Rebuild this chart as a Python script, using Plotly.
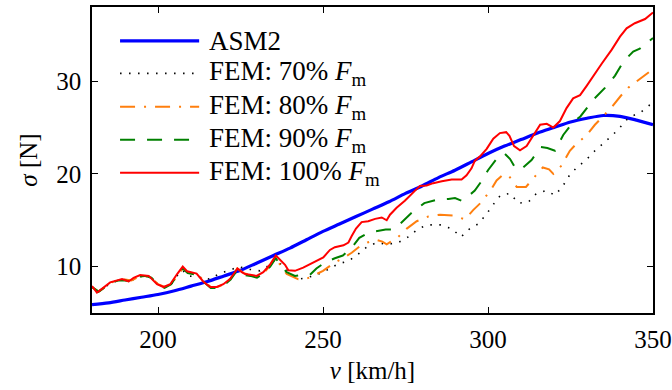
import plotly.graph_objects as go

# ---- data ----
asm2_v = [180, 185, 190, 195, 200, 205, 210, 215, 220, 225, 230, 235, 240, 245, 250, 255, 260, 265, 270, 275,
          280, 285, 290, 295, 300, 305, 310, 315, 320, 325, 330, 335, 340, 345, 350]
asm2_s = [5.9, 6.1, 6.4, 6.7, 7.0, 7.4, 7.9, 8.4, 9.0, 9.6, 10.4, 11.2, 12.0, 12.9, 13.8, 14.6, 15.4, 16.2, 17.0, 17.9,
          18.7, 19.6, 20.4, 21.3, 22.2, 23.0, 23.7, 24.4, 25.0, 25.6, 26.0, 26.3, 26.2, 25.8, 25.3]

f70_v = [180, 182, 184, 186, 188, 190, 192, 194, 196, 198, 200, 202, 204, 206, 207.5, 209, 212, 215.8, 218.8, 221.8,
         224.3, 227.9, 230.9, 233, 235.7, 238.5, 242.5, 245, 248, 251, 254.6, 257.7, 260.5, 263.2, 266.3, 269.5,
         272.8, 275.8, 278.9, 281.9, 285.5, 289, 291.8, 294.5, 297, 299.4, 301.6, 303.8, 306.7, 309.2, 312.2,
         314.7, 317.6, 320.3, 322.6, 324.6, 326.9, 329.7, 332.4, 334.9, 337.8, 340.2, 342.7, 346.1, 348.9, 350]
f70_s = [7.8, 7.3, 7.8, 8.3, 8.5, 8.6, 8.5, 8.9, 9.0, 8.8, 8.1, 7.8, 8.1, 9.1, 9.6, 9.0, 8.9, 8.65, 9.3, 9.6,
         10.0, 9.7, 9.55, 10.0, 10.8, 9.8, 8.65, 8.8, 9.1, 9.6, 10.3, 10.6, 11.3, 12.1, 12.6, 12.4,
         12.6, 13.2, 14.1, 14.5, 14.5, 14.1, 13.2, 14.1, 14.6, 15.6, 16.7, 17.7, 17.9, 16.85, 16.95,
         17.9, 18.2, 17.7, 18.65, 19.8, 20.7, 21.5, 22.5, 23.3, 24.2, 25.1, 26.1, 26.6, 27.4, 27.6]

f80_v = [180, 182, 184, 186, 188, 190, 192, 194, 196, 198, 200, 202, 204, 206, 207.5, 209, 212, 214, 216, 218,
         220, 222, 224, 226, 228, 230, 232, 234, 235.7, 237, 239, 242.5, 245, 247, 250, 253.6, 256, 258.7, 261,
         263.5, 266, 268, 269.3, 272.8, 275.4, 278.4, 281.9, 285.5, 289.5, 293, 295.5, 298, 301.1, 302.6, 304.5,
         306.2, 308.7, 311.5, 313.7, 316.6, 318.5, 319.8, 322.3, 324.8, 326.9, 329.7, 332.4, 334.9, 337.5, 340.2,
         342.5, 345.5, 348.9, 350]
f80_s = [7.8, 7.3, 7.8, 8.3, 8.5, 8.6, 8.5, 8.9, 9.0, 8.8, 8.1, 7.8, 8.1, 9.1, 9.8, 9.4, 9.2, 8.4, 7.8, 7.8,
         8.1, 8.7, 9.8, 9.3, 9.1, 8.9, 9.3, 10.1, 11.0, 10.2, 9.2, 8.65, 8.7, 9.0, 9.55, 10.45, 10.9, 11.5, 12.15,
         12.6, 12.9, 12.7, 12.4, 13.2, 14.1, 14.9, 15.4, 15.6, 15.5, 15.1, 16.1, 16.95, 18.4, 19.3, 19.9,
         19.85, 18.6, 18.6, 19.5, 20.7, 20.5, 20.0, 20.9, 22.5, 23.3, 24.1, 25.3, 26.2, 27.2, 28.4,
         29.3, 30.1, 31.0, 31.3]

f90_v = [180, 182, 184, 186, 188, 190, 192, 194, 196, 198, 200, 202, 204, 206, 207.5, 209, 212, 214, 216, 218,
         220, 222, 224, 226, 228, 230, 232, 234, 235.7, 237, 239, 241.5, 244, 246, 248, 250.6, 253.6, 256, 258.4,
         261, 263, 266, 269, 271, 273.3, 276.7, 280.7, 285, 288, 290, 292, 294, 296, 298, 300, 303, 305, 306.7,
         308, 309.7, 313.2, 316, 318, 320.3, 322.8, 325.8, 328, 331.9, 335.5, 338.5, 341, 344, 346, 348.6, 350]
f90_s = [7.8, 7.3, 7.8, 8.3, 8.5, 8.5, 8.4, 8.9, 9.0, 8.8, 8.1, 7.7, 8.1, 9.2, 9.8, 9.3, 9.1, 8.3, 7.7, 7.7,
         8.0, 8.6, 9.6, 9.1, 9.0, 8.8, 9.3, 10.0, 10.9, 10.2, 9.4, 9.0, 9.1, 9.1, 9.8, 10.45, 10.9, 11.2, 11.9,
         13.1, 13.5, 13.8, 14.0, 14.0, 14.6, 15.75, 16.85, 17.25, 17.3, 17.4, 17.1, 17.6, 18.2, 19.2, 20.4, 21.8,
         22.2, 21.6, 20.8, 20.4, 21.5, 22.9, 22.8, 22.5, 24.2, 25.6, 26.2, 28.0, 29.3, 30.6, 32.1, 33.2, 33.5,
         34.2, 34.65]

f100_v = [180, 181.5, 183, 185.5, 189.1, 191.1, 192.6, 194.6, 197.2, 199.7, 201.7, 203.7, 205.8, 207.5, 208.8,
          210.3, 211.7, 213.7, 215.8, 217.8, 219.8, 221.8, 223.3, 224.1, 225.4, 226.4, 228.4, 229.9, 231.9, 233.9,
          235.7, 237, 238.5, 239.5, 241.5, 244, 247, 250.1, 252.1, 253.6, 256.2, 257.7, 258.7, 260, 261.7, 263.7,
          265.8, 267.8, 269.3, 270.3, 272.3, 274.8, 277.9, 279.4, 281.4, 283.4, 286, 289, 292, 293.5, 295, 296,
          297.6, 299.6, 301.6, 303.6, 305.5, 306.5, 307.9, 309.7, 311.7, 313.7, 315.8, 317.8, 319.8, 321.8, 323.8,
          325.8, 327.9, 329.9, 331.9, 334.5, 337.5, 340, 342, 344.5, 347.6, 350]
f100_s = [7.9, 7.2, 7.6, 8.3, 8.65, 8.4, 8.8, 9.1, 9.0, 8.1, 7.8, 8.1, 9.2, 10.0, 9.5,
          9.35, 9.25, 8.4, 7.8, 7.8, 8.1, 8.65, 9.4, 9.8, 9.4, 9.2, 9.1, 9.0, 9.4, 10.2,
          11.2, 10.7, 10.2, 9.6, 9.55, 9.9, 10.45, 11.0, 11.8, 12.1, 12.3, 12.6, 13.3, 14.1, 14.8, 14.9,
          15.15, 15.3, 15.0, 15.6, 16.35, 17.1, 18.2, 18.7, 18.75, 19.0, 19.2, 19.4, 19.4, 19.85, 20.6, 21.4,
          21.9, 22.7, 23.8, 24.4, 24.5, 24.1, 23.0, 22.55, 23.0, 24.1, 25.3, 25.4, 25.0, 25.7, 27.1,
          28.15, 28.5, 29.5, 30.6, 31.9, 33.4, 34.8, 35.7, 36.25, 36.7, 37.4]

x_ticks = [200, 250, 300, 350]
y_ticks = [10, 20, 30]

names = ["ASM2",
         "FEM: 70% <i>F</i><sub>m</sub>",
         "FEM: 80% <i>F</i><sub>m</sub>",
         "FEM: 90% <i>F</i><sub>m</sub>",
         "FEM: 100% <i>F</i><sub>m</sub>"]

# ---- styles ----
FONT = "Liberation Serif"
FSIZE = 25
LEG_SIZE = 27
styles = [
    dict(color="#0000ff", width=3.2, dash="solid"),
    dict(color="#000000", width=1.6, dash="1.5px,7.5px"),
    dict(color="#ff7f0e", width=2.0, dash="15px,9px,2px,9px"),
    dict(color="#008000", width=2.0, dash="15px,12px"),
    dict(color="#ff0000", width=2.0, dash="solid"),
]
series = [(asm2_v, asm2_s), (f70_v, f70_s), (f80_v, f80_s), (f90_v, f90_s), (f100_v, f100_s)]

fig = go.Figure()
for i, ((vx, sy), st) in enumerate(zip(series, styles)):
    fig.add_trace(go.Scatter(
        x=vx, y=sy, mode="lines", name=names[i], showlegend=False,
        line=dict(color=st["color"], width=st["width"], dash=st["dash"],
                  shape="spline" if i == 0 else "linear", smoothing=0.8 if i == 0 else None),
    ))

# manual legend (samples + labels) in paper coordinates
leg_rows = [0.889, 0.783, 0.674, 0.566, 0.458]
shapes = []
annotations = []
for i, st in enumerate(styles):
    yy = leg_rows[i]
    shapes.append(dict(type="line", xref="paper", yref="paper", x0=0.05, x1=0.191, y0=yy, y1=yy,
                       line=dict(color=st["color"], width=st["width"], dash=st["dash"])))
    annotations.append(dict(xref="paper", yref="paper", x=0.205, y=yy, xanchor="left", yanchor="middle",
                            text=names[i], showarrow=False, font=dict(family=FONT, size=LEG_SIZE, color="black")))

fig.update_layout(
    width=672, height=390,
    margin=dict(l=92, r=19, t=7, b=77),
    paper_bgcolor="white", plot_bgcolor="white",
    font=dict(family=FONT, size=FSIZE, color="black"),
    shapes=shapes, annotations=annotations,
    showlegend=False,
)
fig.update_xaxes(
    range=[180, 350], tickvals=x_ticks, ticktext=[str(t) for t in x_ticks],
    ticks="inside", ticklen=6, tickwidth=1.2, tickcolor="black",
    showline=True, linecolor="black", linewidth=1.5, mirror="ticks",
    showgrid=False, zeroline=False, ticklabelstandoff=3, automargin=False,
    title=dict(text="<i>v</i> [km/h]", standoff=10, font=dict(family=FONT, size=FSIZE)),
    tickfont=dict(family=FONT, size=FSIZE),
)
fig.update_yaxes(
    range=[5, 38], tickvals=y_ticks, ticktext=[str(t) for t in y_ticks],
    ticks="inside", ticklen=6, tickwidth=1.2, tickcolor="black",
    showline=True, linecolor="black", linewidth=1.5, mirror="ticks",
    showgrid=False, zeroline=False, ticklabelstandoff=4, automargin=False,
    title=dict(text="<i>σ</i> [N]", standoff=12, font=dict(family=FONT, size=FSIZE)),
    tickfont=dict(family=FONT, size=FSIZE),
)

fig.write_html("out.html")
